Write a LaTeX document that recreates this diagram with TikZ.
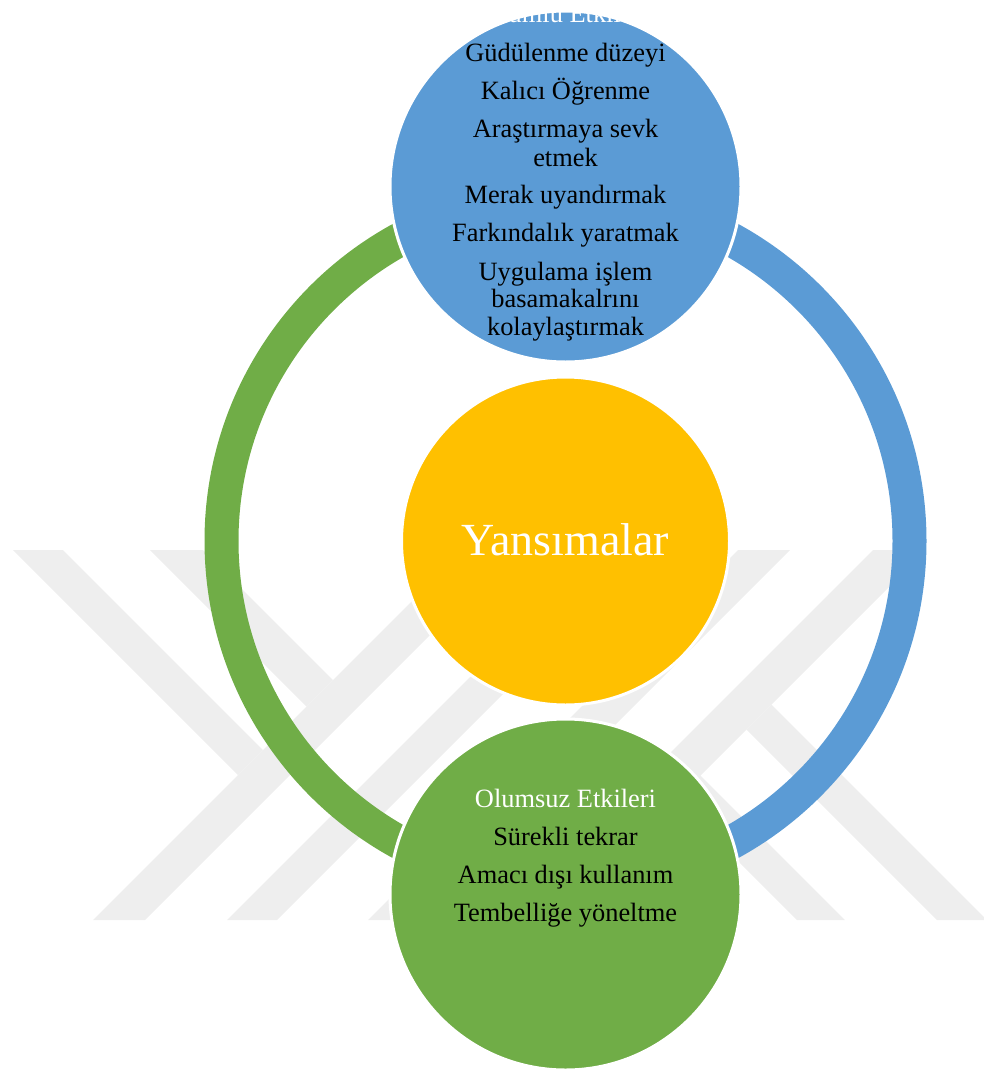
\documentclass[tikz,border=0pt]{standalone}
\usepackage{fontspec}
\setmainfont{Liberation Serif}
\definecolor{blueC}{HTML}{5B9BD5}
\definecolor{greenC}{HTML}{70AD47}
\definecolor{goldC}{HTML}{FFC000}
\definecolor{wmark}{RGB}{238,238,238}
\tikzset{
  bigcirc/.style={circle, inner sep=0pt, draw=white, line width=3pt},
  item/.style={font=\fontsize{26.4}{27}\selectfont, text=black, anchor=base, inner sep=0pt},
  head/.style={item, text=white},
  ringarc/.style={line width=34pt},
  wm/.style={fill=wmark}
}
\begin{document}
\begin{tikzpicture}[x=1pt,y=-1pt]
\useasboundingbox (0,0) rectangle (983,1071);
% watermark
\fill[wm] (13,550) -- (63,550) -- (263,750) -- (238,775) -- cycle;
\fill[wm] (93,920) -- (145,920) -- (515,550) -- (463,550) -- cycle;
\fill[wm] (150,550) -- (203,550) -- (333,680) -- (306.5,706.5) -- cycle;
\fill[wm] (227,920) -- (277,920) -- (647,550) -- (597,550) -- cycle;
\fill[wm] (368,920) -- (420,920) -- (790,550) -- (738,550) -- cycle;
\fill[wm] (873,550) -- (926,550) -- (700.5,775.5) -- (845,920) -- (797,920) -- (650,773) -- cycle;
\fill[wm] (746.5,729.5) -- (771.5,704.5) -- (987,920) -- (937,920) -- cycle;
% ring
\coordinate (ring) at (565.5,541);
\draw[ringarc, greenC] (ring) ++(90:344pt) arc[start angle=90, end angle=270, radius=344pt];
\draw[ringarc, blueC] (ring) ++(-90:344pt) arc[start angle=-90, end angle=90, radius=344pt];
% circles
\node[bigcirc, fill=blueC, minimum size=351pt] (pos) at (565.5,186.5) {};
\node[bigcirc, fill=goldC, minimum size=328pt] (mid) at (565.5,541) {};
\node[bigcirc, fill=greenC, minimum size=351pt] (neg) at (565.5,894.5) {};
% top texts
\node[head] (t0) at (565.5,22) {Olumlu Etkileri};
\node[item] (t1) at (565.5,61) {Güdülenme düzeyi};
\node[item] (t2) at (565.5,99) {Kalıcı Öğrenme};
\node[item] (t3) at (565.5,137) {Araştırmaya sevk};
\node[item] (t3b) at (565.5,166) {etmek};
\node[item] (t4) at (565.5,203) {Merak uyandırmak};
\node[item] (t5) at (565.5,241) {Farkındalık yaratmak};
\node[item] (t6) at (565.5,280) {Uygulama işlem};
\node[item] (t6b) at (565.5,307) {basamakalrını};
\node[item] (t6c) at (565.5,335) {kolaylaştırmak};
% center
\node[head, font=\fontsize{46}{48}\selectfont] (c0) at (565.5,555) {Yansımalar};
% bottom texts
\node[head] (b0) at (565.5,807) {Olumsuz Etkileri};
\node[item] (b1) at (565.5,845) {Sürekli tekrar};
\node[item] (b2) at (565.5,883) {Amacı dışı kullanım};
\node[item] (b3) at (565.5,921) {Tembelliğe yöneltme};
\end{tikzpicture}
\end{document}
